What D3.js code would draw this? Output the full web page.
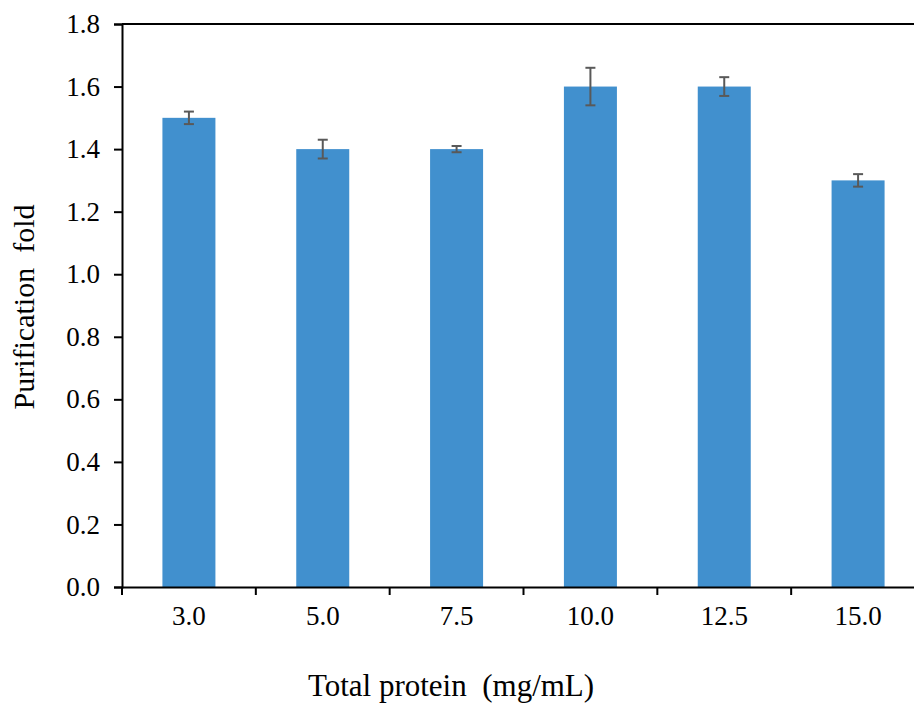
<!DOCTYPE html>
<html><head><meta charset="utf-8">
<script src="https://cdn.jsdelivr.net/npm/d3@7"></script>
<style>body{margin:0;background:#fff;} svg{display:block;} text{font-family:"Liberation Serif","Times New Roman",serif !important;}</style>
</head><body>
<svg id="c" width="914" height="703"></svg>
<script>
const categories = ["3.0","5.0","7.5","10.0","12.5","15.0"];
const values = [1.5,1.4,1.4,1.6,1.6,1.3];
const errors = [0.02,0.03,0.01,0.06,0.03,0.02];
const yTicks = [0,0.2,0.4,0.6,0.8,1.0,1.2,1.4,1.6,1.8];

const svg = d3.select("#c");
const pLeft = 122, pRight = 925, pTop = 24, pBottom = 587;

const xb = d3.scaleBand().domain(categories).range([pLeft,pRight]);
const y = d3.scaleLinear().domain([0,1.8]).range([pBottom,pTop]);

// bars
svg.selectAll("rect.bar").data(values).join("rect")
  .attr("class","bar")
  .attr("x",(d,i)=>xb(categories[i]) + xb.bandwidth()/2 - 26.5)
  .attr("width",53)
  .attr("y",d=>y(d))
  .attr("height",d=>pBottom-y(d))
  .attr("fill","#4190CE");

// error bars
const eg = svg.append("g").attr("stroke","#595959").attr("stroke-width",2);
values.forEach((v,i)=>{
  const cx = xb(categories[i]) + xb.bandwidth()/2;
  eg.append("line").attr("x1",cx).attr("x2",cx).attr("y1",y(v+errors[i])).attr("y2",y(v-errors[i]));
  eg.append("line").attr("x1",cx-5).attr("x2",cx+5).attr("y1",y(v+errors[i])).attr("y2",y(v+errors[i]));
  eg.append("line").attr("x1",cx-5).attr("x2",cx+5).attr("y1",y(v-errors[i])).attr("y2",y(v-errors[i]));
});

// top border
svg.append("line").attr("x1",pLeft).attr("x2",914).attr("y1",pTop).attr("y2",pTop)
  .attr("stroke","#000").attr("stroke-width",2);

// y axis
const ya = svg.append("g").attr("transform",`translate(${pLeft},0)`)
  .call(d3.axisLeft(y).tickValues(yTicks).tickFormat(d3.format(".1f")).tickSize(8).tickPadding(14));
ya.select(".domain").attr("stroke","#000").attr("stroke-width",2);
ya.selectAll(".tick line").attr("stroke","#000").attr("stroke-width",2);
ya.selectAll("text").attr("font-size",27).attr("fill","#000");

// x axis
const xa = svg.append("g").attr("transform",`translate(0,${pBottom})`)
  .call(d3.axisBottom(xb).tickSize(0).tickPadding(19));
xa.select(".domain").attr("stroke","#000").attr("stroke-width",2);
xa.selectAll("text").attr("font-size",27).attr("fill","#000");
// boundary tick marks between categories
const bounds = categories.map(c=>xb(c)).concat([pRight]);
svg.append("g").selectAll("line").data(bounds).join("line")
  .attr("x1",d=>d).attr("x2",d=>d).attr("y1",pBottom).attr("y2",pBottom+8)
  .attr("stroke","#000").attr("stroke-width",2);

// titles
svg.append("text").attr("x",451).attr("y",696).attr("text-anchor","middle")
  .attr("font-size",31).attr("fill","#000")
  .style("white-space","pre")
  .text("Total protein  (mg/mL)");
svg.append("text").attr("transform","translate(34,307) rotate(-90)").attr("text-anchor","middle")
  .attr("font-size",30).attr("fill","#000")
  .style("white-space","pre")
  .text("Purification  fold");
</script>
</body></html>
